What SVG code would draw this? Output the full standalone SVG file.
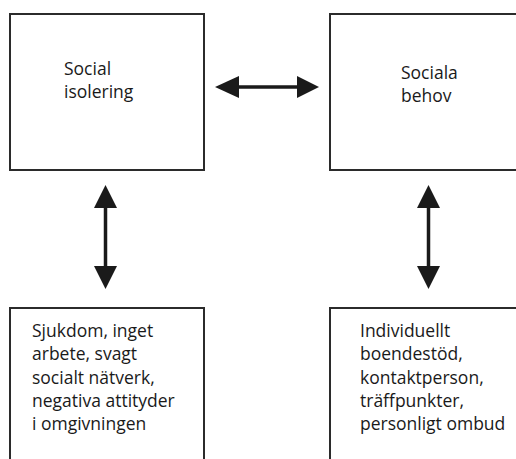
<svg xmlns="http://www.w3.org/2000/svg" width="516" height="459" viewBox="0 0 516 459">
  <defs>
    <style>
      .box { fill: #ffffff; stroke: #2b2b2b; stroke-width: 2; }
      .lbl { font-family: "Open Sans", "Liberation Sans", sans-serif; font-size: 17.5px; fill: #1a1a1a; }
      .shaft { stroke: #1a1a1a; stroke-width: 3.5; fill: none; }
      .head { fill: #1a1a1a; }
    </style>
  </defs>
  <rect width="516" height="459" fill="#ffffff"/>

  <g id="node-social-isolering">
    <rect class="box" x="10" y="14" width="194" height="156"/>
    <text class="lbl" x="64" y="75">Social</text>
    <text class="lbl" x="64" y="98">isolering</text>
  </g>

  <g id="node-sociala-behov">
    <rect class="box" x="330" y="14" width="200" height="156"/>
    <text class="lbl" x="401" y="79">Sociala</text>
    <text class="lbl" x="401" y="102">behov</text>
  </g>

  <g id="node-orsaker">
    <rect class="box" x="10" y="308" width="194" height="170"/>
    <text class="lbl" x="32" y="337">Sjukdom, inget</text>
    <text class="lbl" x="32" y="360">arbete, svagt</text>
    <text class="lbl" x="32" y="383.5">socialt nätverk,</text>
    <text class="lbl" x="32" y="407">negativa attityder</text>
    <text class="lbl" x="32" y="430">i omgivningen</text>
  </g>

  <g id="node-insatser">
    <rect class="box" x="330" y="308" width="200" height="170"/>
    <text class="lbl" x="360" y="337">Individuellt</text>
    <text class="lbl" x="360" y="360">boendestöd,</text>
    <text class="lbl" x="360" y="383.5">kontaktperson,</text>
    <text class="lbl" x="360" y="407">träffpunkter,</text>
    <text class="lbl" x="360" y="430">personligt ombud</text>
  </g>

  <g id="connectors">
    <g id="arrow-top">
      <line class="shaft" x1="236" y1="87" x2="300" y2="87"/>
      <polygon class="head" points="215,87 239,76 239,98"/>
      <polygon class="head" points="319,87 297,76 297,98"/>
    </g>
    <g id="arrow-left">
      <line class="shaft" x1="105.5" y1="205" x2="105.5" y2="269"/>
      <polygon class="head" points="105.5,185 94,208 117,208"/>
      <polygon class="head" points="105.5,289 94,266 117,266"/>
    </g>
    <g id="arrow-right">
      <line class="shaft" x1="428.5" y1="205" x2="428.5" y2="269"/>
      <polygon class="head" points="428.5,185 417,208 440,208"/>
      <polygon class="head" points="428.5,289 417,266 440,266"/>
    </g>
  </g>
</svg>
